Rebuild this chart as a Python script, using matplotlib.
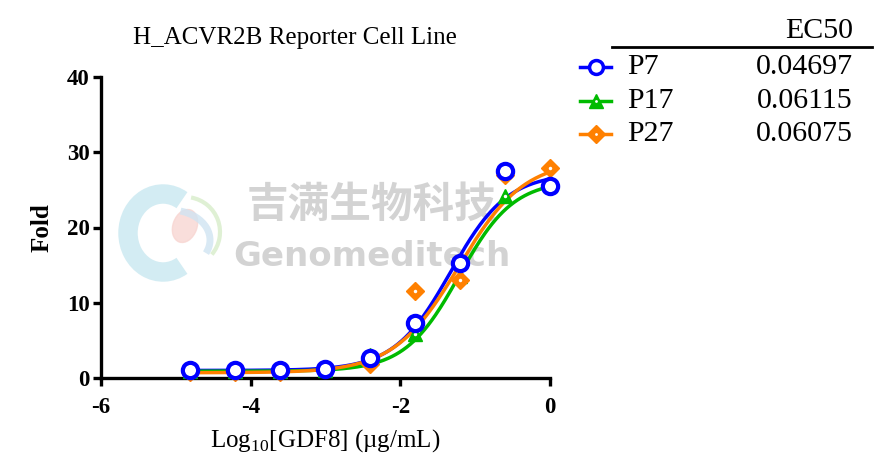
import numpy as np
import matplotlib
matplotlib.use("Agg")
import matplotlib.pyplot as plt
from matplotlib.patches import Arc, Ellipse

plt.rcParams['font.family'] = ['Liberation Serif', 'DejaVu Sans']
plt.rcParams['mathtext.fontset'] = 'custom'
plt.rcParams['mathtext.rm'] = 'Liberation Serif'

# log10 of GDF8 concentration (ug/mL), 4-fold dilutions from 1 ug/mL
log_conc = [0.0, -0.602, -1.204, -1.806, -2.408, -3.010, -3.612, -4.214, -4.816]

names = ['P7', 'P17', 'P27']
fold_p7 = [25.5, 27.5, 15.3, 7.3, 2.6, 1.2, 1.0, 1.0, 1.0]
fold_p17 = [25.6, 24.2, 13.5, 5.8, 3.0, 1.0, 0.9, 0.9, 0.9]
fold_p27 = [27.9, 27.0, 13.0, 11.5, 1.8, 1.2, 0.8, 0.8, 0.8]
ec50 = ['0.04697', '0.06115', '0.06075']

# 4PL fit parameters (bottom, top, hill), logEC50 from the EC50 column
bottom = [1.0, 0.9, 0.7]
top = [27.2, 26.3, 29.0]
hill = [1.15, 1.2, 1.0]

colors = ['#0000ff', '#00bb00', '#ff8000']
markers = ['o', '^', 'D']
series = [fold_p7, fold_p17, fold_p27]

fig = plt.figure(figsize=(8.87, 4.76), dpi=100)

# overlay in pixel coordinates for watermark + legend table
ov = fig.add_axes([0, 0, 1, 1])
ov.set_xlim(0, 887)
ov.set_ylim(476, 0)
ov.axis('off')

# watermark logo (rough)
ov.add_patch(Arc((163, 233), 70, 78, theta1=60, theta2=300, lw=14, color='#c9e8f0', alpha=0.8))
ov.add_patch(Ellipse((185, 226), 24, 34, angle=20, color='#f8d6d2', alpha=0.8))
ov.add_patch(Arc((185, 232), 70, 70, theta1=-80, theta2=40, lw=3, color='#dcefd0', alpha=0.9))
ov.add_patch(Arc((170, 240), 80, 60, theta1=-70, theta2=20, lw=5, color='#d0e4f2', alpha=0.8))
ov.text(372, 205, '吉满生物科技', fontsize=30, fontweight='bold', color='#d3d3d3',
        family=['Noto Sans CJK SC', 'DejaVu Sans'], ha='center', va='center')
ov.text(372, 256, 'Genomeditech', fontsize=24.5, fontweight='bold', color='#d3d3d3',
        family='DejaVu Sans', ha='center', va='center')

ax = fig.add_axes([101 / 887, 1 - 378 / 476, 449 / 887, 301 / 476])
ax.patch.set_alpha(0)

xs = np.linspace(min(log_conc), max(log_conc), 300)
order = [2, 1, 0]
for i in order:
    log_ec50 = np.log10(float(ec50[i]))
    fit = bottom[i] + (top[i] - bottom[i]) / (1 + 10 ** ((log_ec50 - xs) * hill[i]))
    ax.plot(xs, fit, color=colors[i], lw=2.5, zorder=2 + i, clip_on=False)
for i in order:
    if markers[i] == 'o':
        ax.plot(log_conc, series[i], ls='none', marker='o', ms=11, mfc='white',
                mec=colors[i], mew=3, zorder=10 + i, clip_on=False)
    else:
        ms = 10 if markers[i] == '^' else 9
        ax.plot(log_conc, series[i], ls='none', marker=markers[i], ms=ms, mfc=colors[i],
                mec=colors[i], zorder=5 + i, clip_on=False)
        ax.plot(log_conc, series[i], ls='none', marker='o', ms=2.5, mfc='white',
                mec='none', zorder=5 + i, clip_on=False)

ax.set_xlim(-6, 0)
ax.set_ylim(0, 40)
ax.set_xticks([-6, -4, -2, 0])
ax.set_yticks([0, 10, 20, 30, 40])
ax.set_xticklabels(['-6', '-4', '-2', '0'])
for s in ['top', 'right']:
    ax.spines[s].set_visible(False)
for s in ['left', 'bottom']:
    ax.spines[s].set_linewidth(2.4)
ax.tick_params(width=2.4, length=6, labelsize=16.5)
ax.tick_params(axis='x', pad=8)
ax.tick_params(axis='y', pad=2)
for lab in ax.get_xticklabels() + ax.get_yticklabels():
    lab.set_fontweight('bold')
ax.set_ylabel('Fold', fontsize=18, fontweight='bold', labelpad=10)
ax.set_xlabel(r'Log$_{\mathregular{10}}$[GDF8] (µg/mL)', fontsize=18, labelpad=6)

fig.text(295 / 887, 1 - 38 / 476, 'H_ACVR2B Reporter Cell Line', fontsize=18,
         ha='center', va='center')

# legend table
ov.text(853, 31, 'EC50', fontsize=21.5, ha='right', va='center')
ov.plot([612, 872], [47, 47], color='black', lw=2)
rows_y = [67, 101, 134]
for i in range(3):
    y = rows_y[i]
    ov.plot([580, 611], [y, y], color=colors[i], lw=2.5)
    if markers[i] == 'o':
        ov.plot(596, y, marker='o', ms=10, mfc='white', mec=colors[i], mew=2.5)
    else:
        ov.plot(596, y, marker=markers[i], ms=10 if markers[i] == '^' else 9,
                mfc=colors[i], mec=colors[i])
        ov.plot(596, y, marker='o', ms=2, mfc='white', mec='none')
    ov.text(627, y, names[i], fontsize=21.5, ha='left', va='center')
    ov.text(853, y, ec50[i], fontsize=21.5, ha='right', va='center')

fig.savefig('out.png', dpi=100)
